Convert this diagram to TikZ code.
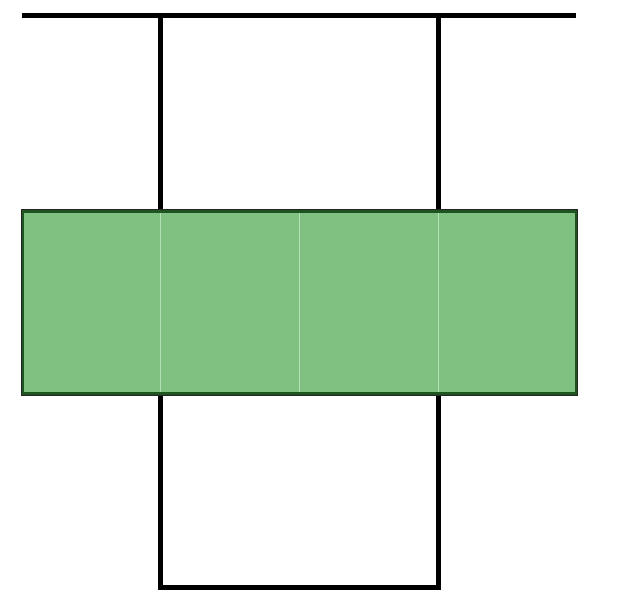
\documentclass[tikz,border=0pt]{standalone}
\usetikzlibrary{
		calc,
		positioning
	}
\definecolor{cellgreen}{RGB}{127,193,128}
\definecolor{rimgreen}{RGB}{30,84,32}
\definecolor{seamgreen}{RGB}{180,224,178}
\tikzset{
		>=stealth,
		cell/.style={rectangle, fill=cellgreen, draw=seamgreen, line width=0.8pt,
			minimum width=139pt, minimum height=185pt, inner sep=0pt, outer sep=0pt},
		wire/.style={line width=5pt, line join=miter}
	}

\begin{document}
\begin{tikzpicture}[x=1pt, y=-1pt]
\useasboundingbox (0,0) rectangle (636,607);
% four cells of the bar
\node[cell] (c1) at (91,302.5) {};
\node[cell, right=0pt of c1] (c2) {};
\node[cell, right=0pt of c2] (c3) {};
\node[cell, right=0pt of c3] (c4) {};
% rim of the bar
\draw[rimgreen, line width=2.4pt] ($(c1.north west)+(1.6,1.6)$) rectangle ($(c4.south east)+(-1.6,-1.6)$);
\draw[black!85, line width=1.2pt] ($(c1.north west)+(-0.2,-0.2)$) rectangle ($(c4.south east)+(0.2,0.2)$);
% top wire
\coordinate (tl) at (22,16);
\coordinate (tr) at (576,16);
\draw[wire] (tl) -- (tr);
\draw[wire] (c2.north west |- tl) -- ($(c2.north west)+(0,-1.2)$);
\draw[wire] (c4.north west |- tl) -- ($(c4.north west)+(0,-1.2)$);
% bottom loop
\coordinate (bl) at (160,587);
\draw[wire] ($(c2.south west)+(0,1.2)$) -- (c2.south west |- bl) -- (c4.south west |- bl) -- ($(c4.south west)+(0,1.2)$);
\end{tikzpicture}
\end{document}
